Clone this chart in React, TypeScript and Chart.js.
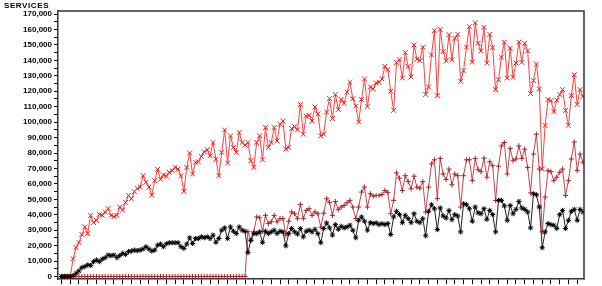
import React, { useEffect, useRef } from 'react';
import { Chart, registerables } from 'chart.js';

Chart.register(...registerables);

const TITLE = 'SERVICES';

const RED_SERIES = [
  0, 0, 0, 0, 11500, 18800, 22000, 27200, 32100, 27800,
  39600, 34900, 36400, 40300, 39600, 41800, 44000, 39600, 38800, 39600,
  45000, 43000, 48000, 52500, 50400, 55000, 57000, 58000, 65300, 61100,
  57900, 52700, 62100, 69400, 63000, 65800, 65000, 67500, 68600, 70700,
  69600, 65300, 55300, 70700, 80000, 66400, 74000, 74300, 77800, 80800,
  82100, 78200, 86800, 76100, 65300, 80400, 94900, 73500, 91100, 83600,
  80400, 93300, 86800, 85100, 86800, 75000, 70700, 86800, 91100, 75600,
  96500, 83600, 86800, 96500, 87800, 98600, 100700, 82500, 83600, 95800,
  97100, 94900, 111400, 92200, 103900, 104400, 100700, 109800, 105300, 91100,
  92200, 106500, 115300, 102300, 117900, 108200, 114700, 112100, 119400, 125800,
  115100, 110400, 100100, 114700, 128000, 110000, 122800, 121500, 125400, 125800,
  128000, 136100, 134000, 120000, 107600, 138700, 140400, 128600, 145100, 136100,
  129300, 150000, 140800, 139900, 148600, 117900, 122800, 143600, 159200, 117200,
  160100, 145700, 139800, 156700, 140400, 154300, 156900, 126400, 133300, 148600,
  161800, 138900, 164400, 151100, 146200, 161400, 138300, 156900, 148300, 121100,
  127500, 142100, 151800, 128600, 147900, 129000, 138300, 151800, 138700, 151100,
  146200, 118500, 126900, 137600, 121500, 69600, 97900, 114700, 114000, 106800,
  114200, 117900, 121100, 107600, 97900, 117200, 130700, 111400, 121100, 116600,
];

const DARK_SERIES = [
  0, 0, 0, 0, 0, 0, 0, 0, 0, 0,
  0, 0, 0, 0, 0, 0, 0, 0, 0, 0,
  0, 0, 0, 0, 0, 0, 0, 0, 0, 0,
  0, 0, 0, 0, 0, 0, 0, 0, 0, 0,
  0, 0, 0, 0, 0, 0, 0, 0, 0, 0,
  0, 0, 0, 0, 0, 0, 0, 0, 0, 0,
  0, 0, 0, 0, 29000, 23500, 28900, 38600, 38100, 29300,
  39600, 34300, 35400, 39600, 35400, 37500, 37500, 26800, 35800, 41800,
  40700, 37500, 46700, 37500, 42800, 43900, 39600, 41800, 40700, 32000,
  41000, 50400, 48000, 39600, 48600, 43300, 45000, 46000, 47800, 49300,
  45000, 37500, 45000, 54700, 57900, 45000, 53600, 52100, 52500, 52500,
  53100, 55700, 54500, 40700, 49300, 67100, 63700, 55700, 65300, 61500,
  56800, 65000, 57900, 57200, 61500, 41800, 57900, 72900, 75600, 50400,
  76500, 66400, 62800, 69600, 59400, 66400, 65300, 45000, 65300, 75600,
  75600, 62100, 76500, 69200, 67900, 76700, 64300, 74300, 71800, 49300,
  71400, 84600, 86800, 66400, 83000, 75000, 76100, 84600, 76500, 82500,
  70700, 54200, 79300, 92200, 69600, 28900, 51400, 68600, 67900, 62100,
  64300, 67500, 69600, 52500, 62100, 76100, 87200, 68600, 79300, 74000,
];

const BLACK_SERIES = [
  0, 0, 0, 0, 500, 2100, 3600, 5800, 6400, 7500,
  7100, 9600, 10700, 9600, 11300, 12200, 13900, 13500, 13900, 12200,
  13500, 15000, 14300, 16100, 16500, 17100, 16700, 17100, 17800, 19300,
  17800, 16500, 17100, 20300, 21000, 19300, 21200, 21900, 21900, 21900,
  21900, 19300, 18200, 21000, 25100, 21400, 24600, 24600, 25700, 25100,
  25700, 24600, 26800, 22100, 24600, 30000, 31500, 24600, 32100, 29300,
  27800, 32100, 30000, 29300, 15500, 23500, 27800, 27800, 28900, 22100,
  29300, 27800, 28900, 30000, 27800, 29300, 28900, 19900, 27800, 31100,
  28900, 27500, 31100, 25700, 29300, 30000, 28900, 30600, 27800, 21900,
  31100, 34700, 31500, 26800, 33600, 30600, 32500, 31500, 32100, 33200,
  30000, 25100, 36400, 38600, 35800, 30000, 34900, 34300, 34700, 33600,
  34300, 33600, 34300, 27200, 38600, 42200, 40100, 34900, 39600, 37500,
  34900, 40700, 35800, 34900, 37500, 26400, 42200, 46500, 43900, 30400,
  44400, 39200, 37900, 42800, 36800, 40100, 39200, 28900, 47100, 46500,
  43900, 35800, 45000, 41200, 40700, 43900, 37000, 42800, 40100, 28900,
  49300, 49300, 45700, 36400, 46000, 40700, 43500, 48600, 44400, 43500,
  41800, 31500, 53600, 52900, 45000, 18600, 28900, 34300, 33600, 33200,
  31100, 40100, 42800, 31100, 36400, 42200, 43500, 36400, 43500, 41800,
];

const Y_TICK_VALUES = [
  0, 10000, 20000, 30000, 40000, 50000, 60000, 70000, 80000,
  90000, 100000, 110000, 120000, 130000, 140000, 150000, 160000, 170000,
];

const toPoints = (arr: number[]) => arr.map((v, i) => ({ x: i, y: v }));

export default function App() {
  const canvasRef = useRef<HTMLCanvasElement | null>(null);

  useEffect(() => {
    const canvas = canvasRef.current;
    if (!canvas) return;

    const framePlugin = {
      id: 'frameAndTitle',
      afterDraw(chart: any) {
        const { ctx, chartArea } = chart;
        ctx.save();
        ctx.strokeStyle = '#333333';
        ctx.lineWidth = 1.5;
        ctx.beginPath();
        ctx.moveTo(chartArea.left, chartArea.top);
        ctx.lineTo(chartArea.right, chartArea.top);
        ctx.lineTo(chartArea.right, chartArea.bottom);
        ctx.stroke();
        ctx.fillStyle = '#000';
        ctx.font = 'bold 8px Arial, "Liberation Sans", sans-serif';
        ctx.textBaseline = 'top';
        ctx.textAlign = 'left';
        (ctx as any).letterSpacing = '0.6px';
        ctx.fillText(TITLE, 4, 2);
        ctx.restore();
      },
    };

    const chart = new Chart(canvas, {
      type: 'line',
      data: {
        datasets: [
          {
            label: 'black',
            data: toPoints(BLACK_SERIES),
            borderColor: '#222222',
            backgroundColor: '#000000',
            pointBorderColor: '#000000',
            pointStyle: 'star',
            pointRadius: 2.6,
            pointBorderWidth: 1,
            borderWidth: 1,
            tension: 0,
            fill: false,
          },
          {
            label: 'darkred',
            data: toPoints(DARK_SERIES),
            borderColor: '#c0484e',
            backgroundColor: '#a8242c',
            pointBorderColor: '#a8242c',
            pointStyle: 'cross',
            pointRadius: 2.6,
            pointBorderWidth: 1,
            borderWidth: 1,
            tension: 0,
            fill: false,
          },
          {
            label: 'red',
            data: toPoints(RED_SERIES),
            borderColor: '#ff4040',
            backgroundColor: '#ff1010',
            pointBorderColor: '#ff1010',
            pointStyle: 'crossRot',
            pointRadius: 3.4,
            pointBorderWidth: 1,
            borderWidth: 1,
            tension: 0,
            fill: false,
          },
        ],
      },
      options: {
        animation: false,
        responsive: false,
        maintainAspectRatio: false,
        events: [],
        layout: { padding: { top: 11, right: 18, left: 0, bottom: 0 } },
        plugins: {
          legend: { display: false },
          tooltip: { enabled: false },
          title: { display: false },
        },
        scales: {
          x: {
            type: 'linear',
            min: -1.2,
            max: 179.34,
            afterBuildTicks: (scale: any) => {
              const t: { value: number }[] = [];
              for (let v = 0; v <= 179; v += 3) t.push({ value: v });
              scale.ticks = t;
            },
            afterFit: (scale: any) => {
              scale.height = 5;
            },
            ticks: { display: false },
            grid: {
              drawOnChartArea: false,
              drawTicks: true,
              tickLength: 5,
              tickColor: '#000000',
              tickWidth: 1,
            },
            border: { display: true, color: '#333333', width: 1.5 },
          },
          y: {
            type: 'linear',
            min: -1750,
            max: 172000,
            afterBuildTicks: (scale: any) => {
              const t: { value: number }[] = [];
              Y_TICK_VALUES.forEach((v, i) => {
                t.push({ value: v });
                if (i < Y_TICK_VALUES.length - 1) t.push({ value: v + 5000 });
              });
              scale.ticks = t;
            },
            afterFit: (scale: any) => {
              scale.width = 58;
            },
            ticks: {
              autoSkip: false,
              padding: 2,
              color: '#000000',
              font: { family: 'Arial, "Liberation Sans", sans-serif', size: 8, weight: 'bold' },
              callback: (value: any) =>
                Y_TICK_VALUES.includes(Number(value)) ? Number(value).toLocaleString('en-US') : '',
            },
            grid: {
              drawOnChartArea: false,
              drawTicks: true,
              tickLength: 4,
              tickColor: '#000000',
              tickWidth: 1,
            },
            border: { display: true, color: '#333333', width: 1.5 },
          },
        },
      },
      plugins: [framePlugin],
    } as any);

    return () => {
      chart.destroy();
    };
  }, []);

  return (
    <div style={{ position: 'fixed', left: 0, top: 0, width: 602, height: 286, background: '#ffffff' }}>
      <canvas ref={canvasRef} width={602} height={286} style={{ width: 602, height: 286, display: 'block' }} />
    </div>
  );
}
